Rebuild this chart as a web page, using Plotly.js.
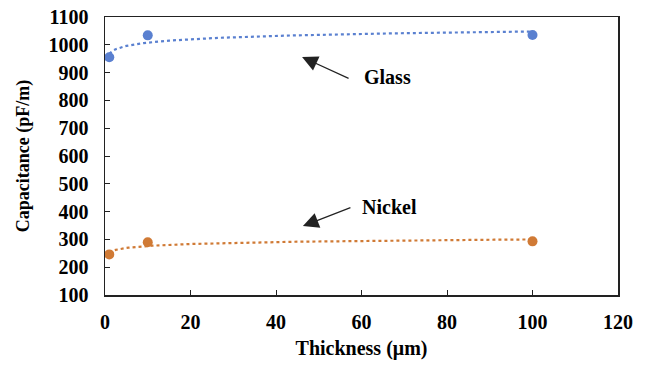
<!DOCTYPE html>
<html><head><meta charset="utf-8">
<script src="https://cdn.plot.ly/plotly-3.0.1.min.js"></script>
<style>html,body{margin:0;padding:0;background:#fff}</style>
</head><body>
<div id="chart" style="width:648px;height:365px"></div>
<script>
const thickness = [1, 10, 100];
const glass = [955, 1034, 1035];
const nickel = [246, 290, 293];
const xTicks = [0, 20, 40, 60, 80, 100, 120];
const yTicks = [100, 200, 300, 400, 500, 600, 700, 800, 900, 1000, 1100];
const blue = '#5A80D0', orange = '#D07A35';

// logarithmic trendline (least squares fit of y = a ln x + b, as in the source's trendline)
function logFit(xs, ys) {
  const lx = xs.map(Math.log);
  const n = xs.length;
  const mx = lx.reduce((s, v) => s + v, 0) / n;
  const my = ys.reduce((s, v) => s + v, 0) / n;
  let sxy = 0, sxx = 0;
  for (let i = 0; i < n; i++) { sxy += (lx[i] - mx) * (ys[i] - my); sxx += (lx[i] - mx) ** 2; }
  const a = sxy / sxx, b = my - a * mx;
  const tx = [], ty = [];
  for (let x = xs[0]; x <= xs[n - 1] + 1e-9; x += 0.5) { tx.push(x); ty.push(a * Math.log(x) + b); }
  return {tx, ty};
}
const gFit = logFit(thickness, glass);
const nFit = logFit(thickness, nickel);

const fam = 'Liberation Serif, Times New Roman, serif';
const data = [
  {x: gFit.tx, y: gFit.ty, mode: 'lines', line: {color: blue, width: 2.2, dash: 'dot'}, hoverinfo: 'skip'},
  {x: nFit.tx, y: nFit.ty, mode: 'lines', line: {color: orange, width: 2.2, dash: 'dot'}, hoverinfo: 'skip'},
  {x: thickness, y: glass, mode: 'markers', name: 'Glass', marker: {color: blue, size: 10}},
  {x: thickness, y: nickel, mode: 'markers', name: 'Nickel', marker: {color: orange, size: 10}}
];
const tickfont = {family: fam, size: 20, color: '#000', weight: 'bold'};
const layout = {
  width: 648, height: 365,
  margin: {l: 105, r: 30, t: 17, b: 70},
  showlegend: false,
  paper_bgcolor: '#fff', plot_bgcolor: '#fff',
  font: {family: fam, color: '#000'},
  xaxis: {
    range: [0, 120], tickvals: xTicks, ticktext: xTicks.map(String),
    showgrid: false, zeroline: false, showline: true, mirror: true, automargin: false,
    linecolor: '#222', linewidth: 1.5, ticks: 'inside', ticklen: 5, tickcolor: '#222',
    ticklabelstandoff: 8,
    tickfont: tickfont,
    title: {text: '<b>Thickness (μm)</b>', font: {family: fam, size: 20, color: '#000'}, standoff: 9}
  },
  yaxis: {
    range: [100, 1100], tickvals: yTicks, ticktext: yTicks.map(String),
    showgrid: false, zeroline: false, showline: true, mirror: true, automargin: false,
    linecolor: '#222', linewidth: 1.5, ticks: 'inside', ticklen: 5, tickcolor: '#222',
    ticklabelstandoff: 11,
    tickfont: tickfont,
    title: {text: '<b>Capacitance (pF/m)</b>', font: {family: fam, size: 18, color: '#000'}, standoff: 14}
  },
  annotations: [
    {x: 46.1, y: 956, ax: 48, ay: 22, xref: 'x', yref: 'y',
     text: '', showarrow: true, arrowhead: 2, arrowsize: 2.6, arrowwidth: 1.2, arrowcolor: '#222'},
    {x: 46.3, y: 348, ax: 49, ay: -19, xref: 'x', yref: 'y',
     text: '', showarrow: true, arrowhead: 2, arrowsize: 2.6, arrowwidth: 1.2, arrowcolor: '#222'},
    {x: 60.1, y: 884, xref: 'x', yref: 'y', xanchor: 'left', text: '<b>Glass</b>', showarrow: false,
     font: {family: fam, size: 20, color: '#000'}},
    {x: 59.6, y: 417, xref: 'x', yref: 'y', xanchor: 'left', text: '<b>Nickel</b>', showarrow: false,
     font: {family: fam, size: 20, color: '#000'}}
  ]
};
Plotly.newPlot('chart', data, layout, {displayModeBar: false, staticPlot: true});
</script>
</body></html>
